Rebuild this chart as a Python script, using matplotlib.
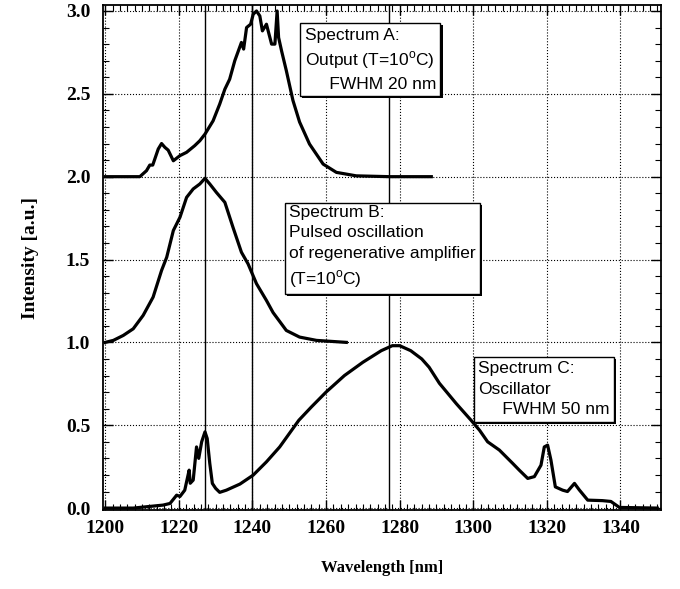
import matplotlib
matplotlib.use("Agg")
import matplotlib.pyplot as plt
import matplotlib.patheffects as pe
from matplotlib.ticker import MultipleLocator

# Spectrum A (output, offset by 2)
wl_a = [1200, 1205, 1209.4, 1211.2, 1212.1, 1212.9, 1214.4, 1215.3, 1216.2, 1217.1,
        1218.5, 1220.3, 1222.1, 1224.3, 1225.7, 1227.1, 1229.3, 1231.1, 1232.5, 1233.8,
        1235.2, 1237.0, 1237.6, 1238.4, 1239.5, 1240.2, 1241.1, 1242.0, 1242.7, 1243.8,
        1245.2, 1246.1, 1246.7, 1247.1, 1247.9, 1249.2, 1251.0, 1252.8, 1255.5, 1259.2,
        1262.8, 1268.2, 1277.2, 1288.6]
int_a = [2.0, 2.0, 2.0, 2.036, 2.07, 2.07, 2.167, 2.20, 2.177, 2.16,
         2.096, 2.127, 2.147, 2.187, 2.217, 2.257, 2.337, 2.438, 2.528, 2.588,
         2.70, 2.81, 2.77, 2.90, 2.92, 2.98, 3.0, 2.97, 2.88, 2.92,
         2.80, 2.80, 3.0, 2.84, 2.76, 2.64, 2.46, 2.33, 2.197, 2.076,
         2.026, 2.005, 2.0, 2.0]

# Spectrum B (pulsed oscillation, offset by 1)
wl_b = [1200, 1202.2, 1204.9, 1207.6, 1210.3, 1213.0, 1215.3, 1216.7, 1218.5, 1220.3,
        1222.1, 1223.9, 1225.7, 1227.1, 1228.4, 1230.2, 1232.5, 1234.7, 1237.0, 1238.8,
        1241.1, 1243.8, 1245.6, 1249.2, 1252.8, 1257.4, 1265.5]
int_b = [1.0, 1.012, 1.042, 1.082, 1.163, 1.273, 1.434, 1.514, 1.675, 1.755,
         1.875, 1.926, 1.956, 1.99, 1.956, 1.905, 1.845, 1.695, 1.544, 1.474,
         1.354, 1.253, 1.18, 1.072, 1.032, 1.012, 1.0]

# Spectrum C (oscillator)
wl_c = [1200, 1207.6, 1215.7, 1217.6, 1219.4, 1220.3, 1221.6, 1222.3, 1222.8, 1223.1,
        1223.9, 1224.8, 1225.4, 1226.2, 1227.1, 1227.7, 1228.4, 1229.1, 1230.0, 1231.1,
        1232.9, 1236.6, 1240.2, 1243.8, 1247.4, 1252.6, 1256, 1260, 1265, 1270,
        1275, 1278, 1280, 1283, 1286, 1288, 1290.8, 1295.4, 1299.4, 1301.7,
        1303.9, 1307.1, 1310.7, 1312.5, 1314.8, 1316.6, 1318.4, 1319.3, 1320.2, 1321.1,
        1322.3, 1324.3, 1325.6, 1327.5, 1328.8, 1331.1, 1335.1, 1337.4, 1339.7, 1350]
int_c = [0.0, 0.0, 0.018, 0.028, 0.078, 0.07, 0.108, 0.179, 0.229, 0.15,
         0.169, 0.369, 0.30, 0.40, 0.46, 0.42, 0.27, 0.149, 0.119, 0.095,
         0.108, 0.145, 0.199, 0.279, 0.369, 0.53, 0.61, 0.70, 0.80, 0.88,
         0.95, 0.98, 0.98, 0.95, 0.90, 0.85, 0.753, 0.63, 0.53, 0.47,
         0.40, 0.35, 0.27, 0.229, 0.179, 0.19, 0.259, 0.369, 0.38, 0.29,
         0.128, 0.108, 0.10, 0.149, 0.11, 0.048, 0.045, 0.04, 0.004, 0.0]

# reference wavelengths (vertical markers)
markers = [1227, 1240, 1277]

# annotation texts and anchors (x, y_top)
labels = [
    ("Spectrum A:\nOutput (T=10$^\\mathrm{o}$C)\n     FWHM 20 nm", 1254.2, 2.9),
    ("Spectrum B:\nPulsed oscillation\nof regenerative amplifier\n(T=10$^\\mathrm{o}$C)", 1250.0, 1.83),
    ("Spectrum C:\nOscillator\n     FWHM 50 nm", 1301.4, 0.885),
]

plt.rcParams['mathtext.fontset'] = 'custom'
plt.rcParams['mathtext.rm'] = 'Liberation Sans'

fig = plt.figure(figsize=(6.8, 5.89), dpi=100)
ax = fig.add_axes([0.151, 0.134, 0.821, 0.8575])

for x in markers:
    ax.axvline(x, color='black', lw=1.0, zorder=2)

for wl, it in [(wl_a, int_a), (wl_b, int_b), (wl_c, int_c)]:
    ax.plot(wl, it, color='black', lw=2.3, solid_joinstyle='round', zorder=3)

ax.set_xlim(1199.3, 1351)
ax.set_ylim(-0.012, 3.036)

ax.xaxis.set_major_locator(MultipleLocator(20))
ax.xaxis.set_minor_locator(MultipleLocator(2))
ax.yaxis.set_major_locator(MultipleLocator(0.5))
ax.yaxis.set_minor_locator(MultipleLocator(0.1))
ax.yaxis.set_major_formatter(matplotlib.ticker.FormatStrFormatter('%.1f'))

ax.tick_params(which='both', direction='in', top=True, right=True, color='black')
ax.tick_params(which='major', length=7, width=1.0)
ax.tick_params(axis='x', which='major', pad=7)
ax.tick_params(axis='y', which='major', pad=9)
ax.tick_params(which='minor', length=4, width=0.8)
ax.grid(True, which='major', linestyle=':', color='black', lw=0.8)

for lab in ax.get_xticklabels() + ax.get_yticklabels():
    lab.set_fontfamily('Liberation Serif')
    lab.set_fontweight('bold')
    lab.set_fontsize(14)

for s in ax.spines.values():
    s.set_linewidth(1.3)

ax.set_xlabel("Wavelength [nm]", fontfamily='Liberation Serif', fontweight='bold',
              fontsize=12, labelpad=17)
ax.set_ylabel("Intensity [a.u.]", fontfamily='Liberation Serif', fontweight='bold',
              fontsize=14, labelpad=19)

for txt, x, y in labels:
    t = ax.text(x, y, txt, ha='left', va='top', fontfamily='Liberation Sans',
                fontsize=12.5, linespacing=1.45, zorder=5,
                bbox=dict(boxstyle='square,pad=0.25', facecolor='white',
                          edgecolor='black', lw=1.0))
    t.get_bbox_patch().set_path_effects(
        [pe.SimplePatchShadow(offset=(1.5, -1.5), shadow_rgbFace='black', alpha=1.0),
         pe.Normal()])

fig.savefig("out.png", dpi=100)
